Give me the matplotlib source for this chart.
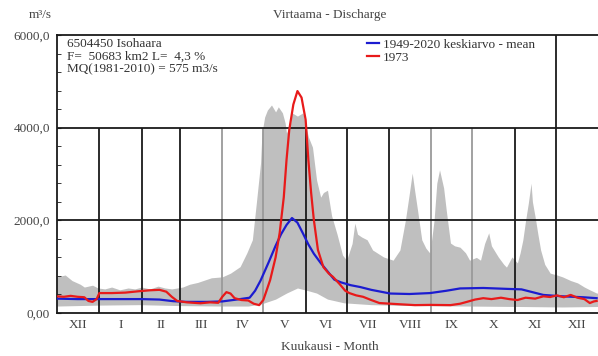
import numpy as np
import matplotlib
matplotlib.use("Agg")
import matplotlib.pyplot as plt

plt.rcParams['font.family'] = ['Liberation Serif', 'DejaVu Serif']

# days counted from 1 December
band_days = [0, 6, 11, 17, 20, 26, 30, 35, 40, 46, 52, 57, 62, 68, 74, 79, 84, 92, 97, 103,
             108, 113, 121, 127, 134, 139, 143, 146, 149, 150, 152, 154, 157, 160, 162, 165,
             167, 168, 171, 172, 176, 180, 184, 187, 190, 193, 195, 198, 201, 205, 209, 212,
             216, 218, 220, 223, 227, 231, 239, 246, 251, 255, 258, 260, 262, 264, 267, 270,
             273, 276, 278, 280, 283, 285, 288, 291, 295, 299, 302, 307, 310, 313, 316, 318,
             323, 327, 329, 333, 337, 339, 341, 343, 345, 347, 348, 350, 352, 354, 357, 361,
             366, 370, 376, 381, 386, 390, 395]
band_max = [780, 820, 700, 620, 560, 600, 540, 520, 560, 500, 540, 520, 560, 520, 580, 540,
            520, 560, 620, 660, 710, 760, 780, 860, 1000, 1300, 1580, 2400, 3240, 3880, 4230,
            4380, 4490, 4340, 4450, 4320, 4100, 3880, 4100, 4320, 4250, 4320, 3800, 3580, 2870,
            2500, 2600, 2650, 2100, 1700, 1250, 1140, 1500, 1940, 1700, 1640, 1580, 1360, 1210,
            1140, 1360, 2000, 2600, 3020, 2600, 2200, 1580, 1400, 1290, 2000, 2800, 3090, 2700,
            2200, 1510, 1450, 1420, 1300, 1140, 1200, 1140, 1500, 1730, 1450, 1210, 1050, 990,
            1210, 1080, 1300, 1580, 2000, 2370, 2800, 2400, 2070, 1700, 1360, 1050, 860, 820,
            780, 700, 650, 560, 500, 430]
band_min_days = [0, 30, 60, 90, 120, 140, 150, 160, 168, 176, 184, 190, 198, 210, 230, 260,
                 300, 340, 370, 395]
band_min = [150, 170, 180, 160, 150, 150, 200, 300, 430, 540, 480, 430, 300, 220, 180, 160,
            150, 140, 130, 140]

mean_days = [0, 15, 31, 45, 62, 75, 85, 95, 110, 121, 134, 141, 145, 149, 155, 160, 164, 168,
             172, 176, 180, 184, 188, 193, 198, 203, 208, 215, 222, 230, 244, 258, 273, 285,
             295, 312, 330, 340, 348, 356, 370, 385, 395]
mean_q = [310, 300, 300, 300, 300, 290, 255, 240, 240, 250, 300, 330, 480, 700, 1100, 1450,
          1700, 1900, 2050, 1950, 1720, 1480, 1280, 1080, 900, 720, 660, 600, 560, 500, 420,
          410, 430, 480, 530, 540, 520, 510, 450, 390, 360, 340, 320]

y1973_days = [0, 5, 10, 15, 20, 23, 26, 29, 31, 40, 50, 60, 68, 75, 80, 84, 88, 95, 105, 112,
              118, 121, 124, 127, 130, 135, 140, 144, 148, 151, 153, 156, 160, 163, 166, 168,
              170, 173, 176, 179, 182, 184, 186, 188, 191, 195, 199, 202, 207, 211, 214, 219,
              224, 230, 236, 250, 262, 273, 288, 295, 300, 306, 312, 318, 325, 331, 337, 343,
              350, 356, 361, 366, 371, 376, 381, 386, 390, 393, 395]
y1973_q = [360, 350, 370, 350, 340, 260, 240, 300, 430, 430, 440, 470, 490, 500, 460, 350,
           260, 230, 210, 230, 220, 350, 450, 420, 320, 280, 270, 200, 170, 280, 450, 710,
           1200, 1730, 2500, 3300, 3950, 4500, 4790, 4650, 4170, 3300, 2600, 2010, 1360, 990,
           850, 780, 620, 480, 430, 380, 350, 280, 215, 190, 170, 175, 170, 200, 240, 290,
           320, 300, 330, 300, 280, 330, 310, 360, 345, 380, 340, 390, 330, 300, 215, 250, 260]

month_starts = [0, 31, 62, 90, 121, 151, 182, 212, 243, 274, 304, 335, 365, 396]
month_names = ['XII', 'I', 'II', 'III', 'IV', 'V', 'VI', 'VII', 'VIII', 'IX', 'X', 'XI', 'XII']

fig = plt.figure(figsize=(5.98, 3.56), dpi=100)
ax = fig.add_axes([57 / 598, 43 / 356, 541 / 598, 278 / 356])

# min-max envelope
mx = np.interp(np.arange(397), band_days, band_max)
mn = np.interp(np.arange(397), band_min_days, band_min)
ax.fill_between(np.arange(397), mn, mx, color='#bfbfbf', lw=0, zorder=1)

# month boundaries stop at 4000 so the text block stays clear; December runs full height
for d in month_starts[1:-1]:
    c = '#9a9a9a' if d in (121, 151, 274, 304) else '#1a1a1a'
    top = 6000 if d == 365 else 4000
    ax.vlines(d, 0, top, color=c, lw=1.3, zorder=2)
for q in (2000, 4000):
    ax.axhline(q, color='#1a1a1a', lw=1.3, zorder=2)

ax.plot(mean_days, mean_q, color='#1c1cd0', lw=1.6, zorder=3,
        label='1949-2020 keskiarvo - mean')
ax.plot(y1973_days, y1973_q, color='#e81a1a', lw=1.6, zorder=4, label='1973')

ax.set_xlim(0, 396)
ax.set_ylim(0, 6000)
ax.spines['right'].set_visible(False)
for s in ('left', 'bottom', 'top'):
    ax.spines[s].set_color('#1a1a1a')
    ax.spines[s].set_linewidth(1.3)

fs = 9.5
tc = '#444444'
ax.set_yticks([0, 2000, 4000, 6000])
ax.set_yticklabels(['0,00', '2000,0', '4000,0', '6000,0'], fontsize=fs, color=tc)
ax.set_yticks(np.arange(400, 6000, 400), minor=True)
ax.tick_params(axis='y', which='both', direction='in', length=3, color='#1a1a1a', pad=5)

centers = [(a + b) / 2 for a, b in zip(month_starts[:-1], month_starts[1:])]
ax.set_xticks(centers)
ax.set_xticklabels(month_names, fontsize=fs, color=tc)
ax.tick_params(axis='x', length=0, pad=4)

info = '6504450 Isohaara\nF=  50683 km2 L=  4,3 %\nMQ(1981-2010) = 575 m3/s'
ax.text(0.018, 0.99, info, transform=ax.transAxes, ha='left', va='top',
        fontsize=fs, linespacing=1.1, color='#333333', zorder=5)

ax.legend(loc='upper left', bbox_to_anchor=(0.556, 1.02), frameon=False, fontsize=fs,
          handlelength=0.9, handletextpad=0.3, labelspacing=0.05, borderpad=0.2,
          labelcolor='#333333')

fig.text(0.552, 0.957, 'Virtaama - Discharge', ha='center', va='center', fontsize=fs,
         color=tc)
fig.text(0.067, 0.957, 'm³/s', ha='center', va='center', fontsize=fs, color=tc)
fig.text(0.552, 0.025, 'Kuukausi - Month', ha='center', va='center', fontsize=fs, color=tc)

fig.savefig('out.png', dpi=100)
